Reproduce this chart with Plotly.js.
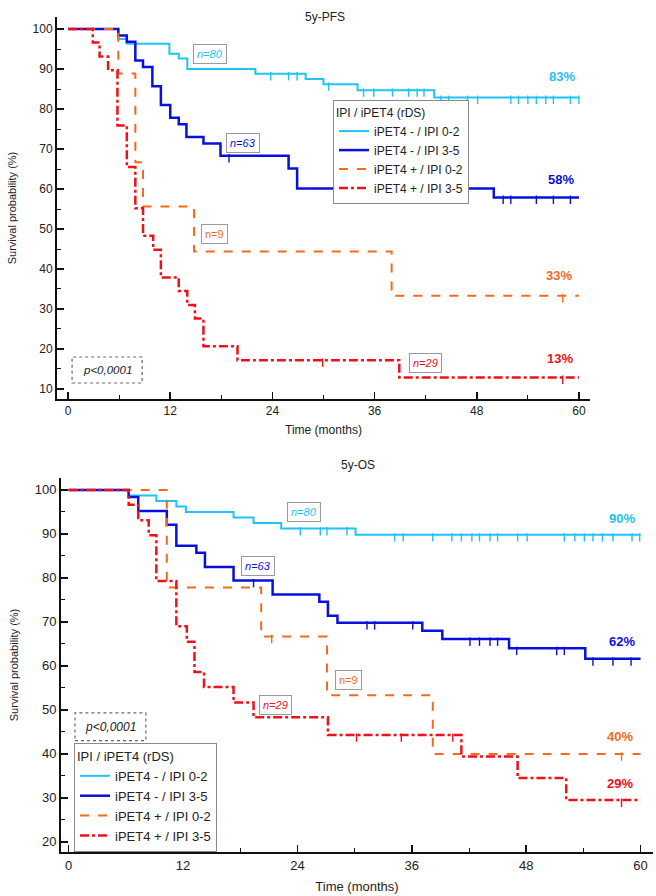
<!DOCTYPE html>
<html>
<head>
<meta charset="utf-8">
<script src="https://cdn.plot.ly/plotly-3.0.1.min.js"></script>
<style>html,body{margin:0;padding:0;background:#fff;}#chart{width:656px;height:896px;}</style>
</head>
<body>
<div id="chart"></div>
<script>
// ---------- data ----------
const seriesNames = ["iPET4 - / IPI 0-2", "iPET4 - / IPI 3-5", "iPET4 + / IPI 0-2", "iPET4 + / IPI 3-5"];
const nLabels = ["n=80", "n=63", "n=9", "n=29"];

// 5y-PFS
const pfsCyanT = [0, 5.9, 6.9, 11.9, 13, 14, 22, 27.9, 30, 34, 43, 60];
const pfsCyanS = [100, 97.5, 96.3, 93.8, 92.6, 90, 88.8, 87.5, 86.2, 84.7, 82.9, 82.9];
const pfsCyanC = [23.8, 25.9, 26.9, 30.6, 34.7, 35.9, 38.1, 40, 41, 41.8, 43.8, 44.7, 46.9, 48.1, 52, 52.9, 54, 55, 56.1, 57, 59, 60];
const pfsBlueT = [0, 5.9, 6.9, 7.9, 8.8, 9.9, 10.9, 12, 13, 13.9, 15.9, 17.9, 25.9, 26.9, 50, 60];
const pfsBlueS = [100, 98.4, 96.8, 92.1, 90.5, 85.7, 81.0, 77.8, 76.2, 73.0, 71.4, 68.3, 65.1, 60.1, 57.9, 57.9];
const pfsBlueC = [18.9, 31.2, 32, 35.9, 42, 42.9, 44, 45.9, 46.9, 51.1, 52, 55, 57, 59];
const pfsOrangeT = [0, 5.9, 7.9, 8.8, 14.8, 38, 60];
const pfsOrangeS = [100, 88.9, 66.7, 55.6, 44.4, 33.3, 33.3];
const pfsOrangeC = [58.1];
const pfsRedT = [0, 2.9, 3.7, 4.7, 5.8, 6.9, 7.9, 8.8, 10, 10.9, 13, 14, 14.9, 15.9, 19.9, 38.9, 60];
const pfsRedS = [100, 96.6, 93.1, 89.7, 75.9, 65.5, 55.2, 48.3, 44.8, 37.9, 34.5, 31.0, 27.6, 20.7, 17.2, 12.9, 12.9];
const pfsRedC = [29.9, 58.1];
const pfsFinal = ["83%", "58%", "33%", "13%"];

// 5y-OS
const osCyanT = [0, 6.3, 9.2, 11.3, 12.3, 17.3, 19.4, 22.3, 30.1, 60];
const osCyanS = [100, 98.7, 97.5, 96.2, 95.0, 93.7, 92.5, 91.2, 89.8, 89.8];
const osCyanC = [24.3, 26.4, 27.1, 29.2, 34.2, 35.1, 38.2, 40.2, 41.2, 42.3, 43.1, 44.2, 45.0, 47.1, 48.1, 52.0, 53.1, 54.1, 55.0, 56.0, 57.1, 59.1, 59.9];
const osBlueT = [0, 6.3, 7.3, 10.3, 11.3, 13.4, 14.3, 17.3, 21.4, 26.3, 27.2, 28.2, 37.1, 39.2, 46.2, 54.2, 60];
const osBlueS = [100, 98.4, 95.2, 92.1, 87.3, 85.7, 82.5, 79.4, 76.2, 74.6, 71.4, 69.8, 68.0, 66.1, 64.0, 61.6, 61.6];
const osBlueC = [19.4, 31.3, 32.1, 36.1, 42.1, 43.1, 44.2, 45.0, 47.0, 51.2, 52.0, 55.0, 57.1, 59.0];
const osOrangeT = [0, 10.3, 20.2, 27.1, 38.2, 60];
const osOrangeS = [100, 77.8, 66.7, 53.3, 40.0, 40.0];
const osOrangeC = [21.3, 58];
const osRedT = [0, 6.3, 7.3, 8.4, 9.2, 11.3, 12.4, 13.2, 14.2, 17.3, 19.4, 27.2, 41.2, 47.1, 52.2, 60];
const osRedS = [100, 96.6, 93.1, 89.7, 79.3, 69.0, 65.5, 58.6, 55.2, 51.7, 48.3, 44.3, 39.4, 34.5, 29.5, 29.5];
const osRedC = [30.2, 34.9, 40.3, 58];
const osFinal = ["90%", "62%", "40%", "29%"];

const xTicks = [0, 12, 24, 36, 48, 60];

// ---------- styling ----------
const colors = ["#1fc3f5", "#0a10dc", "#f56a1c", "#f01018"];
const dashes = ["solid", "solid", "dash", "dashdot"];
const widths = [2, 2.5, 2, 2.5];
const FONT = "Liberation Sans, Arial, sans-serif";

function stepAt(T, S, t) {
  let v = S[0];
  for (let i = 0; i < T.length; i++) { if (T[i] <= t) v = S[i]; }
  return v;
}

const pfs = [[pfsCyanT, pfsCyanS, pfsCyanC], [pfsBlueT, pfsBlueS, pfsBlueC], [pfsOrangeT, pfsOrangeS, pfsOrangeC], [pfsRedT, pfsRedS, pfsRedC]];
const os = [[osCyanT, osCyanS, osCyanC], [osBlueT, osBlueS, osBlueC], [osOrangeT, osOrangeS, osOrangeC], [osRedT, osRedS, osRedC]];

const traces = [];
function addPanel(sets, xa, ya, leg) {
  sets.forEach((d, i) => {
    traces.push({
      x: d[0], y: d[1], type: "scatter", mode: "lines", name: seriesNames[i],
      xaxis: xa, yaxis: ya, legend: leg,
      line: {shape: "hv", color: colors[i], dash: dashes[i], width: widths[i]}
    });
  });
  sets.forEach((d, i) => {
    traces.push({
      x: d[2], y: d[2].map(t => stepAt(d[0], d[1], t) - 0.6), type: "scatter", mode: "markers",
      xaxis: xa, yaxis: ya, showlegend: false, hoverinfo: "skip",
      marker: {symbol: "line-ns-open", size: 6, color: colors[i], line: {color: colors[i], width: 1.4}}
    });
  });
}
addPanel(pfs, "x", "y", "legend");
addPanel(os, "x2", "y2", "legend2");

function xAxis(domain, range, anchor, fs, standoff) {
  return {
    domain: domain, range: range, anchor: anchor, tickvals: xTicks, ticktext: xTicks.map(String),
    showline: true, linecolor: "#111", linewidth: 2, ticks: "inside", ticklen: 7, tickwidth: 1.5, tickcolor: "#111",
    showgrid: false, zeroline: false, tickfont: {family: FONT, size: fs, color: "#222"},
    minor: {dtick: 6, tick0: 0, ticks: "inside", ticklen: 4, tickwidth: 1, tickcolor: "#111", showgrid: false},
    title: {text: "Time (months)", font: {family: FONT, size: fs, color: "#222"}, standoff: standoff}
  };
}
function yAxis(domain, range, anchor, fs) {
  return {
    domain: domain, range: range, anchor: anchor, dtick: 10, tick0: 0,
    showline: true, linecolor: "#111", linewidth: 2, ticks: "inside", ticklen: 7, tickwidth: 1.5, tickcolor: "#111",
    showgrid: false, zeroline: false, tickfont: {family: FONT, size: fs, color: "#222"},
    minor: {dtick: 5, tick0: 0, ticks: "inside", ticklen: 4, tickwidth: 1, tickcolor: "#111", showgrid: false},
    title: {text: "Survival probability (%)", font: {family: FONT, size: 11, color: "#222"}, standoff: 14}
  };
}

const ann = [];
function label(text, x, y, xr, yr, color, opts) {
  ann.push(Object.assign({text: text, x: x, y: y, xref: xr, yref: yr, showarrow: false,
    font: {family: FONT, size: 11, color: color}}, opts || {}));
}
function nBox(text, x, y, xr, yr, color, italic) {
  label(italic ? "<i>" + text + "</i>" : text, x, y, xr, yr, color,
    {bordercolor: "#9a9a9a", borderwidth: 1, borderpad: 3, bgcolor: "#ffffff"});
}
function pct(text, x, y, xr, yr, color) {
  label("<b>" + text + "</b>", x, y, xr, yr, color, {font: {family: FONT, size: 13, color: color}});
}

// titles
label("5y-PFS", 0.4954, 0.991, "paper", "paper", "#222", {font: {family: FONT, size: 12, color: "#222"}});
label("5y-OS", 0.546, 0.481, "paper", "paper", "#222", {font: {family: FONT, size: 12, color: "#222"}});

// PFS labels
nBox(nLabels[0], 16.7, 93.8, "x", "y", colors[0], true);
nBox(nLabels[1], 20.6, 71.5, "x", "y", colors[1], true);
nBox(nLabels[2], 17.2, 48.8, "x", "y", colors[2], false);
nBox(nLabels[3], 42.0, 16.5, "x", "y", colors[3], true);
pct(pfsFinal[0], 58.0, 88.2, "x", "y", colors[0]);
pct(pfsFinal[1], 57.9, 62.5, "x", "y", colors[1]);
pct(pfsFinal[2], 57.6, 38.5, "x", "y", colors[2]);
pct(pfsFinal[3], 57.8, 17.7, "x", "y", colors[3]);
label("<i>p<0,0001</i>", 4.6, 14.75, "x", "y", "#222", {font: {family: FONT, size: 11.5, color: "#222"}});

// OS labels
nBox(nLabels[0], 24.7, 95.0, "x2", "y2", colors[0], true);
nBox(nLabels[1], 19.9, 82.7, "x2", "y2", colors[1], true);
nBox(nLabels[2], 29.4, 56.8, "x2", "y2", colors[2], false);
nBox(nLabels[3], 21.7, 51.1, "x2", "y2", colors[3], true);
pct(osFinal[0], 58.0, 93.4, "x2", "y2", colors[0]);
pct(osFinal[1], 58.0, 65.5, "x2", "y2", colors[1]);
pct(osFinal[2], 57.8, 43.9, "x2", "y2", colors[2]);
pct(osFinal[3], 57.8, 33.2, "x2", "y2", colors[3]);
label("<i>p<0,0001</i>", 4.4, 46.1, "x2", "y2", "#222", {font: {family: FONT, size: 12, color: "#222"}});

const shapes = [
  {type: "rect", xref: "x", yref: "y", x0: 0.47, x1: 8.7, y0: 11.5, y1: 18.0, line: {color: "#666", width: 1.2, dash: "dot"}},
  {type: "rect", xref: "x2", yref: "y2", x0: 0.67, x1: 8.1, y0: 43.0, y1: 49.3, line: {color: "#666", width: 1.2, dash: "dot"}}
];

function legendCfg(x, y, fs) {
  return {
    x: x, y: y, xanchor: "left", yanchor: "top", xref: "paper", yref: "paper",
    bgcolor: "#ffffff", bordercolor: "#8a8a8a", borderwidth: 1,
    font: {family: FONT, size: fs, color: "#222"},
    title: {text: "IPI / iPET4 (rDS)", font: {family: FONT, size: fs, color: "#222"}},
    itemwidth: 30, tracegroupgap: 0
  };
}

const layout = {
  width: 656, height: 896, autosize: false,
  margin: {l: 0, r: 0, t: 0, b: 0},
  paper_bgcolor: "#ffffff", plot_bgcolor: "#ffffff",
  font: {family: FONT, color: "#222"},
  xaxis: xAxis([0.0869, 0.8994], [-1.3, 61.3], "y", 12, 8),
  yaxis: yAxis([0.5547, 0.981], [7.5, 103], "x", 12),
  xaxis2: xAxis([0.093, 0.9954], [-0.8, 61.3], "y2", 13, 10),
  yaxis2: yAxis([0.0491, 0.4665], [17.7, 102.7], "x2", 13),
  legend: legendCfg(0.5076, 0.8884, 12),
  legend2: legendCfg(0.1128, 0.1708, 13),
  annotations: ann,
  shapes: shapes,
  showlegend: true
};

Plotly.newPlot("chart", traces, layout, {displayModeBar: false, staticPlot: true});
</script>
</body>
</html>
